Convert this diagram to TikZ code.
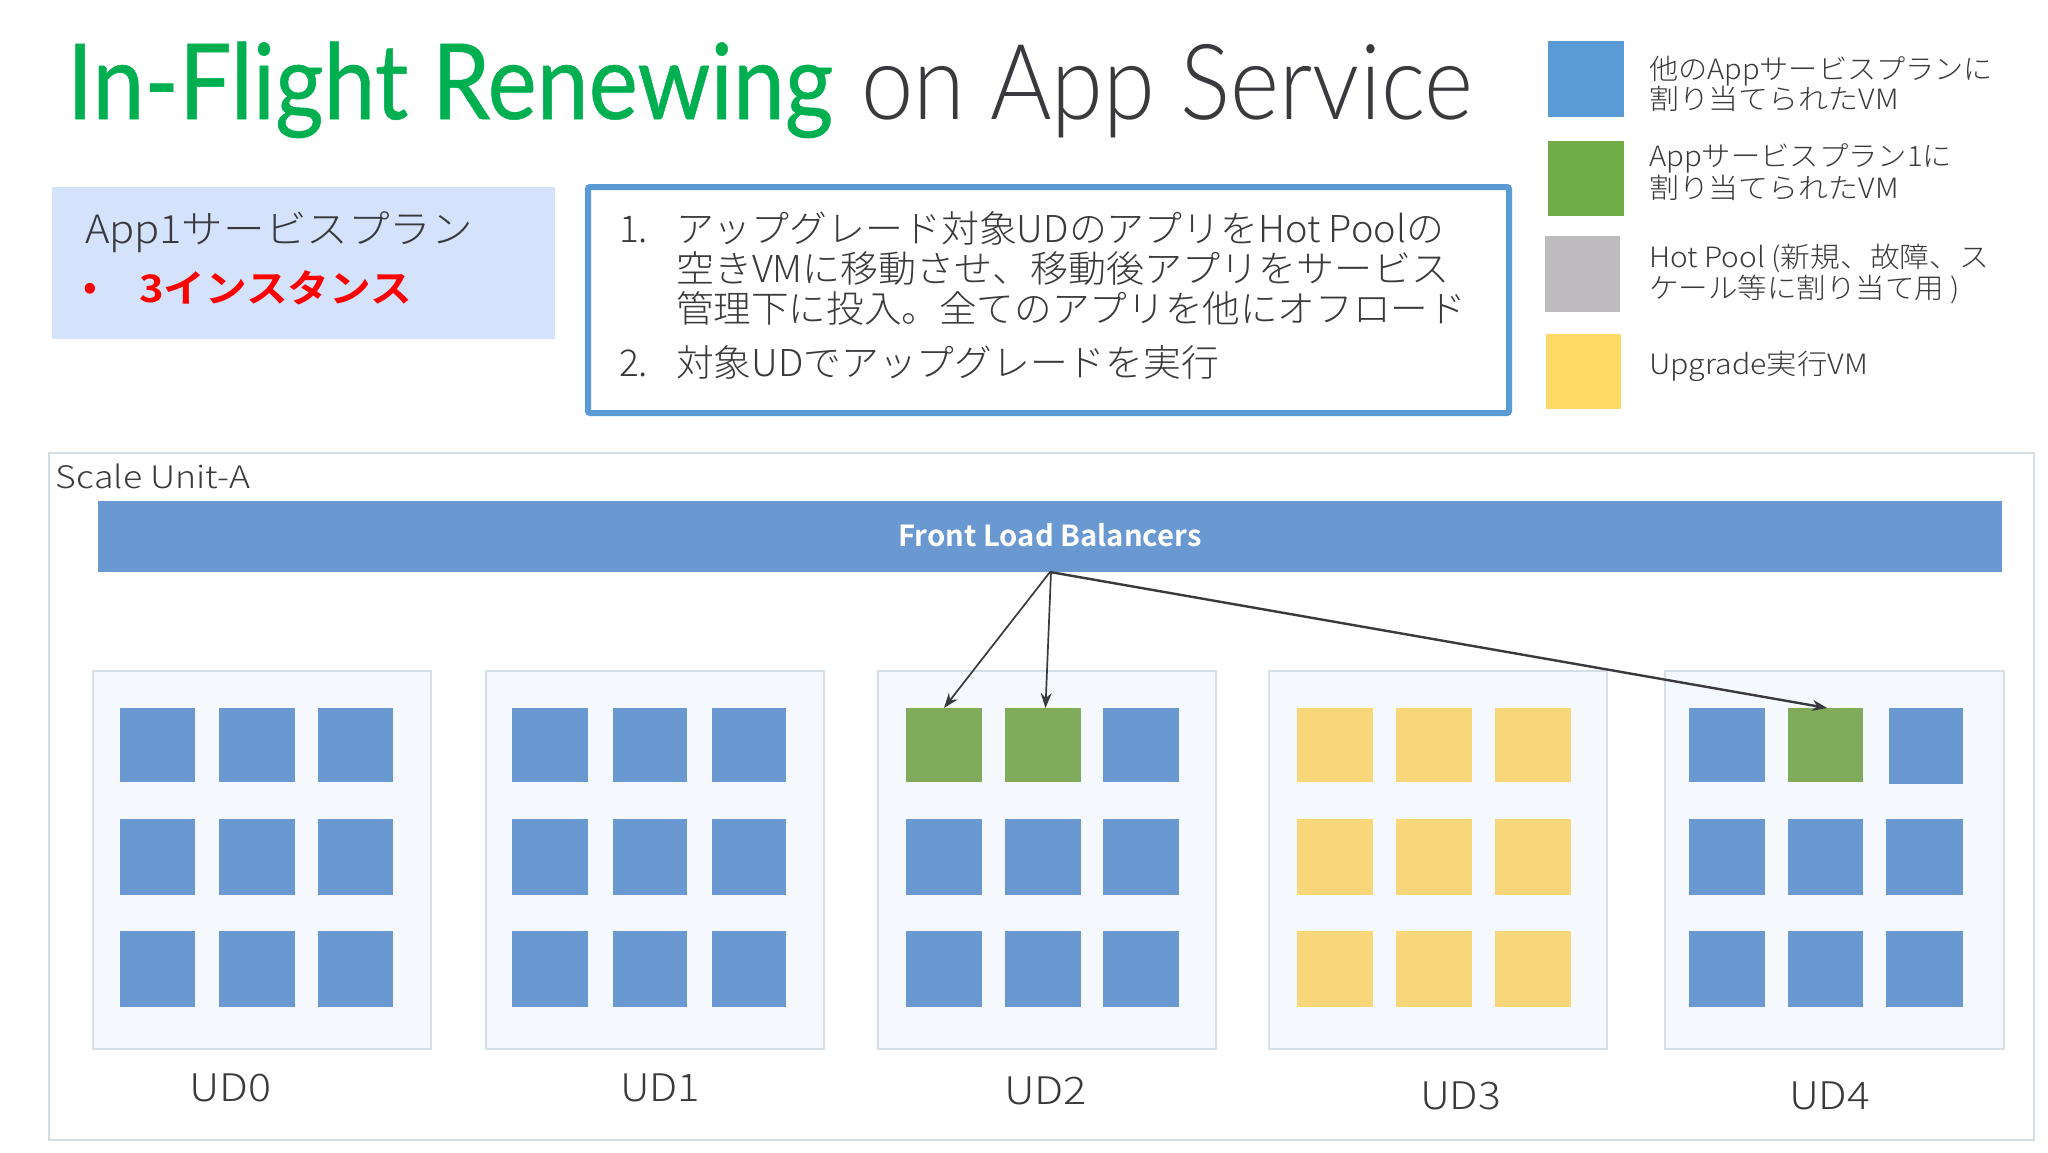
\documentclass[tikz,border=0pt]{standalone}
\usepackage{fontspec}
\usepackage{graphicx}
\usetikzlibrary{arrows.meta}
\setmainfont{Noto Sans CJK JP}[UprightFont=* Light,BoldFont=* Bold]
\newfontfamily\titlereg{Lato}[FakeBold=0.5]
\newfontfamily\titlelight{Lato}[UprightFont=* Light]
\definecolor{vmblue}{HTML}{6A98D0}
\definecolor{vmgreen}{HTML}{7FAB5A}
\definecolor{vmyellow}{HTML}{F7D77A}
\definecolor{udfill}{HTML}{F5F8FC}
\definecolor{udline}{HTML}{D5DEE4}
\definecolor{ink}{HTML}{3A3A3E}
\definecolor{titlegreen}{HTML}{00B050}
\definecolor{planfill}{HTML}{D4E2FB}
\definecolor{lgblue}{HTML}{5B9BD5}
\definecolor{lggreen}{HTML}{70AD47}
\definecolor{lggray}{HTML}{BDBBBE}
\definecolor{lgyellow}{HTML}{FFD966}
\tikzset{
  block/.style={anchor=north west,inner sep=0pt,outer sep=0pt,draw=none},
  udbox/.style={block,fill=udfill,draw=udline,line width=1.5pt},
  label/.style={anchor=base west,inner sep=0pt,outer sep=0pt,text=ink},
  conn/.style={draw=ink,line width=1.7pt,-{Stealth[length=15pt,width=11pt]},shorten <=0pt,shorten >=0pt},
}
% rectangle node given by its corners
\newcommand\bx[6]{%
  \pgfmathsetmacro\wdv{#5-#3}\pgfmathsetmacro\htv{#6-#4}%
  \node[block,#2,minimum width=\wdv pt,minimum height=\htv pt] (#1) at (#3,#4) {};}
% text given by start, baseline, width, size
\newcommand\tx[7][]{%
  \node[label,#1] (#2) at (#3,#4) {\resizebox{#5pt}{\height}{\fontsize{#6}{#6}\selectfont #7}};}
\expandafter\def\csname cell211\endcsname{}
\expandafter\def\csname cell212\endcsname{}
\expandafter\def\csname cell412\endcsname{}
\begin{document}
\begin{tikzpicture}[x=1pt,y=-1pt]
\useasboundingbox[fill=white] (0,0) rectangle (2048,1152);
% title
\tx[text=titlegreen]{t1}{67}{119}{766}{105}{\titlereg In-Flight Renewing}
\tx{t2}{861}{119}{612}{105}{\titlelight on App Service}
% plan box
\bx{plan}{fill=planfill}{52}{187}{554.5}{339}
\tx{plan1}{85}{243}{388}{39}{App1サービスプラン}
\node[anchor=center,inner sep=0pt,text=red,font=\fontsize{36}{36}\selectfont\bfseries] (planb) at (90,291) {•};
\tx[text=red]{plan2}{139}{302}{273}{38}{\bfseries 3インスタンス}
% steps box
\bx{steps}{draw=lgblue,line width=6pt,rounded corners=2pt,fill=white}{588}{187}{1509}{413}
\tx{n1}{619}{242}{29}{37}{1.}
\tx{s1}{676}{242}{768}{37}{アップグレード対象UDのアプリをHot Poolの}
\tx{s2}{676}{282}{773}{37}{空きVMに移動させ、移動後アプリをサービス}
\tx{s3}{676}{322}{790}{37}{管理下に投入。全てのアプリを他にオフロード}
\tx{n2}{619}{376}{29}{37}{2.}
\tx{s4}{676}{376}{543}{37}{対象UDでアップグレードを実行}
% legend
\bx{lg1}{fill=lgblue}{1548}{41}{1623.6}{117}
\bx{lg2}{fill=lggreen}{1548}{141}{1623.6}{216}
\bx{lg3}{fill=lggray}{1545}{236}{1620}{312}
\bx{lg4}{fill=lgyellow}{1546}{334}{1621}{409}
\tx{l1a}{1649}{79}{344}{28}{他のAppサービスプランに}
\tx{l1b}{1649}{109}{250}{28}{割り当てられたVM}
\tx{l2a}{1649}{166}{303}{28}{Appサービスプラン1に}
\tx{l2b}{1649}{198}{250}{28}{割り当てられたVM}
\tx{l3a}{1649}{267}{340}{28}{Hot Pool (新規、故障、ス}
\tx{l3b}{1649}{298}{311}{28}{ケール等に割り当て用 )}
\tx{l4}{1649}{374}{219}{28}{Upgrade実行VM}
% scale unit
\bx{su}{fill=white,draw=udline,line width=2pt}{49}{453}{2034}{1140}
\tx{sul}{56}{488}{194}{31}{Scale Unit-A}
\bx{bar}{fill=vmblue}{98}{501}{2002}{572}
\node[anchor=base,inner sep=0pt,text=white] (barl) at (1050,546) {\resizebox{303pt}{\height}{\fontsize{29}{29}\selectfont\bfseries Front Load Balancers}};
% update domains
\foreach \u/\xa/\xb in {0/93/431,1/486/824,2/878/1216,3/1269/1607,4/1665/2004}
  {\bx{ud\u}{udbox}{\xa}{671}{\xb}{1049}}
\foreach \u/\col/\ca/\cb/\cc/\cd/\ce/\cf in {%
   0/vmblue/120/195/219/295/318/393,
   1/vmblue/512/588/613/687/712/786,
   2/vmblue/906/982/1005/1081/1103/1179,
   3/vmyellow/1297/1373/1396/1472/1495/1571,
   4/vmblue/1689/1765/1787.5/1863/1886/1963}{%
  \foreach \r/\ya/\yb in {1/708/782,2/819/895,3/931/1007}{%
    \foreach \c/\xa/\xb in {1/\ca/\cb,2/\cc/\cd,3/\ce/\cf}{%
      \ifcsname cell\u\r\c\endcsname\def\thecol{vmgreen}\else\edef\thecol{\col}\fi
      \edef\cellkey{\u\r\c}\def\cellodd{413}%
      \ifx\cellkey\cellodd
        \bx{vm\u\r\c}{fill=\thecol}{1889}{\ya}{\xb}{784}
      \else
        \bx{vm\u\r\c}{fill=\thecol}{\xa}{\ya}{\xb}{\yb}
      \fi
    }}}
% UD labels
\tx{ul0}{189}{1101}{82}{38}{UD0}
\tx{ul1}{620}{1101}{80}{38}{UD1}
\tx{ul2}{1004}{1104}{83}{38}{UD2}
\tx{ul3}{1420}{1109}{81}{38}{UD3}
\tx{ul4}{1789}{1109}{81}{38}{UD4}
% connectors
\draw[conn] (bar.south) -- (vm211.north);
\draw[conn] ([xshift=1pt]bar.south) -- ([xshift=2.5pt]vm212.north);
\draw[conn,line width=2.4pt] (bar.south) -- ([xshift=2pt]vm412.north);
\end{tikzpicture}
\end{document}
